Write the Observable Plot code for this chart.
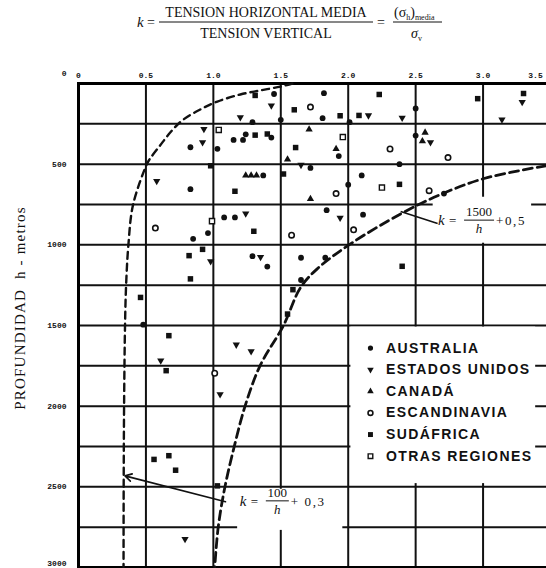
<!DOCTYPE html>
<html>
<head>
<meta charset="utf-8">
<script src="https://cdn.jsdelivr.net/npm/d3@7"></script>
<script src="https://cdn.jsdelivr.net/npm/@observablehq/plot@0.6"></script>
<style>
  html, body { margin: 0; padding: 0; background: #fff; }
  #chart svg { display: block; }
  .legend-text text { letter-spacing: 1.4px; }
</style>
</head>
<body>
<div id="chart"></div>
<script>
// ---- Axis ticks and grid -------------------------------------------------
const kTicks = [0, 0.5, 1.0, 1.5, 2.0, 2.5, 3.0, 3.5];
const depthTicks = [0, 500, 1000, 1500, 2000, 2500, 3000];
const kGrid = [0.5, 1.0, 1.5, 2.0, 2.5, 3.0];
const depthGrid = [250, 500, 750, 1000, 1250, 1500, 1750, 2000, 2250, 2500, 2750];

// ---- Measured stress ratio k and depth h (m), by region -------------------
const australiaK = [1.45, 1.82, 1.81, 1.50, 2.01, 2.50, 1.15, 1.22, 1.24, 1.43, 0.83, 1.03, 1.93, 2.50, 1.72, 1.37, 0.83, 2.00, 2.10, 2.38, 2.71, 1.84, 2.11, 1.08, 1.16, 0.85, 0.96, 1.29, 1.40, 1.65, 1.83, 1.65, 0.48, 1.29];
const australiaH = [65, 60, 215, 225, 240, 155, 350, 350, 315, 335, 395, 405, 450, 323, 523, 570, 655, 627, 570, 500, 682, 785, 813, 830, 830, 963, 927, 1070, 1135, 1080, 1080, 1218, 1495, 240];

const usaK = [1.43, 1.20, 0.92, 0.58, 1.65, 2.15, 2.40, 3.14, 3.29, 2.61, 1.24, 1.94, 0.98, 1.35, 1.17, 1.28, 0.61, 1.05, 0.79, 0.93];
const usaH = [137, 210, 365, 605, 505, 198, 213, 224, 115, 364, 806, 833, 1102, 1076, 1619, 1660, 1718, 1926, 2824, 283];

const canadaK = [1.71, 1.91, 1.55, 1.24, 1.28, 1.32, 2.57, 2.55, 1.72];
const canadaH = [285, 405, 470, 570, 570, 570, 304, 357, 716];

const scandinaviaK = [1.72, 2.31, 2.74, 1.91, 2.60, 0.57, 1.58, 2.04, 1.01];
const scandinaviaH = [146, 406, 459, 682, 664, 896, 940, 907, 1796];

const southAfricaK = [1.31, 2.23, 2.96, 3.30, 1.60, 1.94, 2.08, 1.31, 1.40, 1.61, 1.52, 0.98, 1.16, 2.38, 1.30, 0.92, 0.82, 0.83, 0.46, 1.59, 1.55, 2.40, 0.67, 0.65, 0.56, 0.67, 0.72, 1.03];
const southAfricaH = [74, 68, 94, 62, 163, 200, 198, 320, 313, 397, 561, 510, 668, 625, 916, 1028, 1067, 1211, 1326, 1278, 1429, 1133, 1563, 1780, 2330, 2307, 2397, 2494];

const otherK = [1.04, 1.96, 2.25, 0.99];
const otherH = [288, 332, 645, 853];

// ---- Bounding curves (points along the drawn envelopes) ------------------
// inner envelope, k = 100/h + 0.3
const innerK = [1.586, 1.497, 1.349, 1.200, 1.030, 0.903, 0.769, 0.680, 0.605, 0.531, 0.509, 0.405, 0.370, 0.353, 0.345, 0.338, 0.335, 0.334];
const innerH = [0, 19, 43, 68, 112, 161, 229, 304, 384, 465, 496, 750, 1000, 1250, 1500, 2000, 2500, 3000];
// outer envelope, k = 1500/h + 0.5
const outerK = [3.466, 3.007, 2.673, 2.390, 2.017, 1.770, 1.645, 1.520, 1.346, 1.235, 1.155, 1.086, 1.036, 1.010];
const outerH = [510, 589, 692, 808, 994, 1149, 1267, 1500, 1750, 2000, 2250, 2500, 2750, 3000];

// ---- Legend --------------------------------------------------------------
const regions = ["AUSTRALIA", "ESTADOS UNIDOS", "CANADÁ", "ESCANDINAVIA", "SUDÁFRICA", "OTRAS REGIONES"];

// ---- Build tables ---------------------------------------------------------
const zip = (ks, hs) => ks.map((k, i) => ({k, h: hs[i]}));
const triangleDown = {
  draw(context, size) {
    const y = -Math.sqrt(size / (Math.sqrt(3) * 3));
    context.moveTo(0, -y * 2);
    context.lineTo(-Math.sqrt(3) * y, y);
    context.lineTo(Math.sqrt(3) * y, y);
    context.closePath();
  }
};
const styles = [
  {data: zip(australiaK, australiaH),     symbol: "circle",   r: 2.9, fill: "#111", stroke: "none"},
  {data: zip(usaK, usaH),                 symbol: triangleDown, r: 2.7, fill: "#111", stroke: "none"},
  {data: zip(canadaK, canadaH),           symbol: "triangle", r: 2.7, fill: "#111", stroke: "none"},
  {data: zip(scandinaviaK, scandinaviaH), symbol: "circle",   r: 2.7, fill: "white", stroke: "#111", strokeWidth: 1.6},
  {data: zip(southAfricaK, southAfricaH), symbol: "square",   r: 3.1, fill: "#111", stroke: "none"},
  {data: zip(otherK, otherH),             symbol: "square",   r: 2.9, fill: "white", stroke: "#111", strokeWidth: 1.4}
];

// white panels behind the legend and the curve labels
const panels = [
  {k1: 2.02, k2: 3.39, h1: 1510, h2: 2480},
  {k1: 2.63, k2: 3.36, h1: 705, h2: 990},
  {k1: 1.18, k2: 1.96, h1: 2515, h2: 2770}
];

const legendK = 2.165, legendTextK = 2.28, legendH0 = 1640, legendStep = 134;
const legendRows = regions.map((name, i) => ({name, h: legendH0 + i * legendStep, i}));

const ink = "#111";
const tickFont = {fontSize: 8, fontWeight: "bold", fontFamily: "Liberation Mono, monospace"};
const kFormat = d => d === 0 ? "0" : d.toFixed(1);
const marks = [
  Plot.ruleX(kGrid, {stroke: ink, strokeWidth: 2}),
  Plot.ruleY(depthGrid, {stroke: ink, strokeWidth: 2}),
  Plot.rect(panels, {x1: "k1", x2: "k2", y1: "h1", y2: "h2", fill: "white"}),
  Plot.frame({stroke: "#000", strokeWidth: 3}),
  Plot.line(zip(innerK, innerH), {x: "k", y: "h", curve: "catmull-rom", stroke: ink, strokeWidth: 2.4, strokeDasharray: "7,5"}),
  Plot.line(zip(outerK, outerH), {x: "k", y: "h", curve: "catmull-rom", stroke: ink, strokeWidth: 2.8, strokeDasharray: "9,5"}),
  // leaders from the curves to their formulas
  Plot.link([{k1: 2.389, h1: 794, k2: 2.663, h2: 868}], {x1: "k1", y1: "h1", x2: "k2", y2: "h2", stroke: ink, strokeWidth: 1.6}),
  Plot.arrow([{k1: 1.09, h1: 2592, k2: 0.345, h2: 2432}], {x1: "k1", y1: "h1", x2: "k2", y2: "h2", stroke: ink, strokeWidth: 1.6, headLength: 7}),
  ...styles.map(s => Plot.dot(s.data, {x: "k", y: "h", symbol: s.symbol, r: s.r, fill: s.fill, stroke: s.stroke, strokeWidth: s.strokeWidth})),
  // legend
  ...styles.map((s, i) => Plot.dot([legendRows[i]], {x: () => legendK, y: "h", symbol: s.symbol, r: s.r * 0.9, fill: s.fill, stroke: s.stroke, strokeWidth: s.strokeWidth})),
  Plot.text(legendRows, {x: () => legendTextK, y: "h", text: "name", textAnchor: "start", fontSize: 14, fontWeight: "bold", fontFamily: "Liberation Sans, Arial, sans-serif", fill: ink, className: "legend-text"}),
  // axes
  Plot.axisX(kTicks.slice(0, -1), {anchor: "top", tickSize: 0, tickPadding: 6, tickFormat: kFormat, ...tickFont, label: null}),
  Plot.axisX(kTicks.slice(-1), {anchor: "top", tickSize: 0, tickPadding: 6, dx: -15, tickFormat: kFormat, ...tickFont, label: null}),
  Plot.axisY([0], {anchor: "left", tickSize: 0, tickPadding: 12, dy: -10, tickFormat: d => String(d), ...tickFont, label: null}),
  Plot.axisY(depthTicks.slice(1, -1), {anchor: "left", tickSize: 0, tickPadding: 12, tickFormat: d => String(d), ...tickFont, label: null}),
  Plot.axisY(depthTicks.slice(-1), {anchor: "left", tickSize: 0, tickPadding: 12, dy: -4, tickFormat: d => String(d), ...tickFont, label: null})
];

const chart = Plot.plot({
  width: 546,
  height: 568,
  marginTop: 83,
  marginBottom: 1,
  marginLeft: 78,
  marginRight: -4,
  x: {domain: [0, 3.5]},
  y: {domain: [0, 3000], reverse: true},
  style: {background: "white", color: ink, fontFamily: "Liberation Serif, serif"},
  marks
});
document.getElementById("chart").appendChild(chart);

// ---- Formula annotations --------------------------------------------------
const svg = d3.select(chart);
const xs = chart.scale("x"), ys = chart.scale("y");
const serif = "Liberation Serif, Times New Roman, serif";

function txt(g, x, y, s, opts = {}) {
  return g.append("text")
    .attr("x", x).attr("y", y)
    .attr("font-family", serif)
    .attr("font-size", opts.size || 13)
    .attr("font-style", opts.italic ? "italic" : null)
    .attr("text-anchor", opts.anchor || "start")
    .attr("letter-spacing", opts.spacing || null)
    .attr("fill", ink)
    .text(s);
}
function bar(g, x1, x2, y) {
  g.append("line").attr("x1", x1).attr("x2", x2).attr("y1", y).attr("y2", y)
    .attr("stroke", ink).attr("stroke-width", 1);
}

// title: definition of k
const t = svg.append("g");
txt(t, 137, 27, "k", {italic: true, size: 15});
txt(t, 147, 27, "=", {size: 14});
txt(t, 266, 17, "TENSION HORIZONTAL MEDIA", {anchor: "middle", size: 14});
bar(t, 159, 373, 22);
txt(t, 266, 38, "TENSION VERTICAL", {anchor: "middle", size: 14});
txt(t, 377, 27, "=", {size: 14});
const num = txt(t, 394, 17, "(σ", {size: 14});
num.append("tspan").attr("font-size", 8).attr("dy", 3).text("h");
num.append("tspan").attr("dy", -3).text(")");
num.append("tspan").attr("font-size", 8).attr("dy", 3).text("media");
bar(t, 393, 442, 22);
const den = txt(t, 411, 38, "σ", {size: 14, italic: true});
den.append("tspan").attr("font-size", 8).attr("dy", 3).attr("font-style", "normal").text("v");

// curve labels, anchored on the fraction bar
function curveLabel(k, h, numText, tail) {
  const x0 = xs.apply(k), y0 = ys.apply(h);
  const g = svg.append("g");
  txt(g, x0, y0 + 5, "k", {italic: true, size: 15});
  txt(g, x0 + 11, y0 + 5, "=", {size: 13});
  const w = numText.length * 7;
  const xc = x0 + 27 + w / 2;
  txt(g, xc, y0 - 4, numText, {anchor: "middle", size: 13});
  bar(g, xc - w / 2 - 1, xc + w / 2 + 1, y0);
  txt(g, xc, y0 + 13, "h", {anchor: "middle", italic: true, size: 13});
  txt(g, xc + w / 2 + 3, y0 + 5, tail, {size: 13, spacing: "1.6px"});
}
curveLabel(2.67, 850, "1500", "+0,5");
curveLabel(1.20, 2590, "100", "+ 0,3");

// y-axis title
svg.append("text")
  .attr("transform", "translate(25,308) rotate(-90)")
  .attr("text-anchor", "middle")
  .attr("font-family", serif)
  .attr("font-size", 15)
  .attr("letter-spacing", "1.2px")
  .attr("fill", ink)
  .text("PROFUNDIDAD  h - metros");
</script>
</body>
</html>
